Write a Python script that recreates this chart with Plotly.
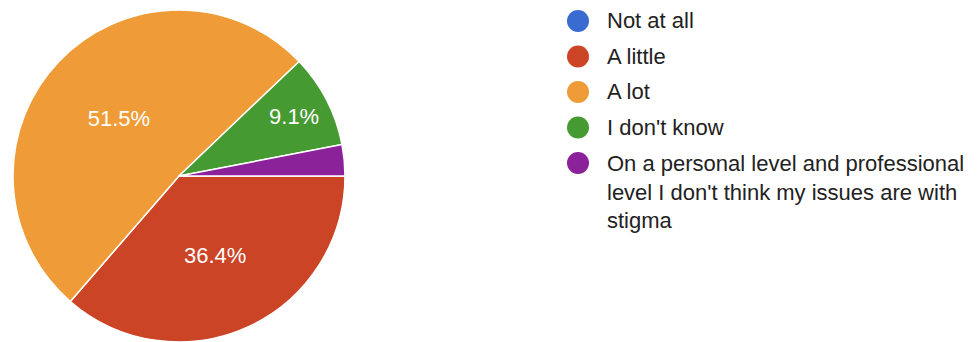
import plotly.graph_objects as go

labels = ["Not at all", "A little", "A lot", "I don't know",
          "On a personal level and professional<br>level I don't think my issues are with<br>stigma"]
counts = [0, 12, 17, 3, 1]
colors = ["#3a6bd0", "#cc4426", "#ef9c38", "#469a32", "#8c2299"]

W, H = 978, 342
M_T, M_B = 2, 8
FONT = "Liberation Sans, Arial, sans-serif"

total = sum(counts)
texts = [f"{c / total * 100:.1f}%" if c / total >= 0.05 else "" for c in counts]

fig = go.Figure()
fig.add_trace(go.Pie(
    labels=labels, values=counts, sort=False, direction="clockwise", rotation=90,
    marker=dict(colors=colors, line=dict(color="white", width=1.5)),
    text=texts, textinfo="text", textposition="inside", insidetextorientation="horizontal",
    textfont=dict(color="white", size=22, family=FONT),
    showlegend=False, hoverinfo="label+percent",
    domain=dict(x=[5 / W, 337 / W], y=[0, 1]),
))


def px_x(x):
    return x / W


def px_y(y):
    return 1 - (y - M_T) / (H - M_T - M_B)


# legend drawn as layout decoration: circle swatch + label per category
leg_x_marker, leg_x_text, leg_y0, leg_step, line_h = 570, 598, 13, 35.5, 28.6
for i, (lab, col) in enumerate(zip(labels, colors)):
    yc = leg_y0 + leg_step * i
    nlines = lab.count("<br>") + 1
    fig.add_shape(type="circle", xref="paper", yref="paper",
                  xsizemode="pixel", ysizemode="pixel",
                  xanchor=px_x(leg_x_marker), yanchor=px_y(yc),
                  x0=-11, x1=11, y0=-11, y1=11,
                  fillcolor=col, line=dict(width=0))
    fig.add_annotation(text=lab, xref="paper", yref="paper",
                       x=px_x(leg_x_text), y=px_y(yc + (nlines - 1) * line_h / 2),
                       xanchor="left", yanchor="middle", align="left", showarrow=False,
                       borderpad=0,
                       font=dict(size=22, family=FONT, color="#222222"))

fig.update_layout(
    width=W, height=H,
    margin=dict(l=0, r=0, t=M_T, b=M_B),
    paper_bgcolor="white", plot_bgcolor="white",
    showlegend=False,
)
fig.write_html("out.html")
